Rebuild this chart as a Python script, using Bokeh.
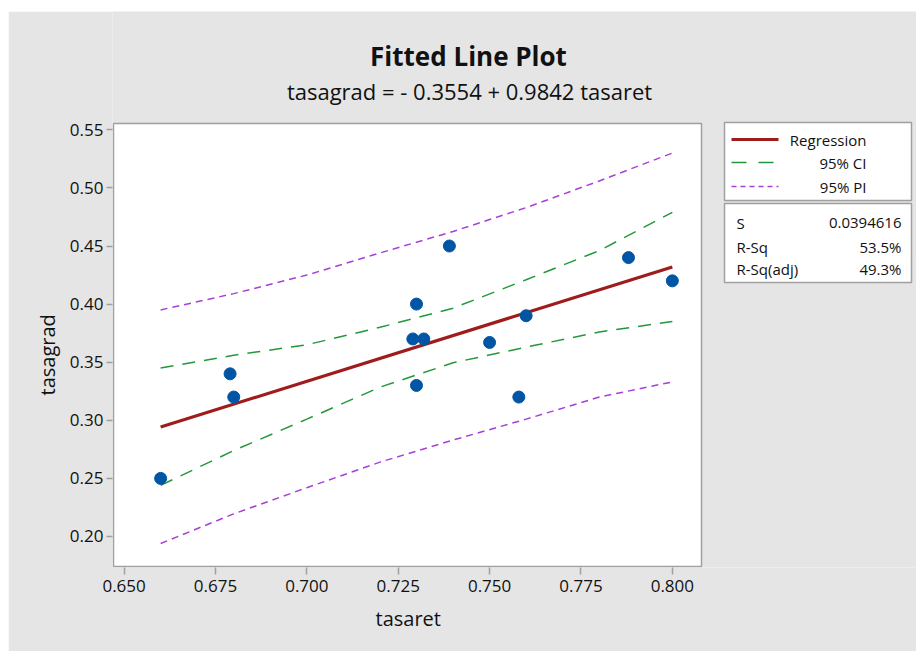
from bokeh.plotting import figure
from bokeh.models import Range1d, Title, FixedTicker, NumeralTickFormatter
from bokeh.embed import file_html
from bokeh.resources import INLINE
from bokeh.core.properties import value

# ---------------- data ----------------
tasaret = [0.660, 0.679, 0.680, 0.729, 0.730, 0.730, 0.732, 0.739, 0.750, 0.758, 0.760, 0.788, 0.800]
tasagrad = [0.250, 0.340, 0.320, 0.370, 0.400, 0.330, 0.370, 0.450, 0.367, 0.320, 0.390, 0.440, 0.420]

fit_x = [0.66, 0.80]
fit_y = [0.2942, 0.4320]

band_x = [0.66, 0.68, 0.70, 0.72, 0.74, 0.76, 0.78, 0.80]
ci_upper = [0.345, 0.356, 0.365, 0.380, 0.3965, 0.421, 0.446, 0.479]
ci_lower = [0.244, 0.274, 0.301, 0.3285, 0.3495, 0.363, 0.376, 0.385]
pi_upper = [0.395, 0.409, 0.425, 0.444, 0.4625, 0.483, 0.506, 0.530]
pi_lower = [0.194, 0.2195, 0.242, 0.264, 0.283, 0.301, 0.320, 0.333]

x_ticks = [0.650, 0.675, 0.700, 0.725, 0.750, 0.775, 0.800]
y_ticks = [0.20, 0.25, 0.30, 0.35, 0.40, 0.45, 0.50, 0.55]

title_text = "Fitted Line Plot"
subtitle_text = "tasagrad = - 0.3554 + 0.9842 tasaret"
x_label = "tasaret"
y_label = "tasagrad"

legend_labels = ["Regression", "95% CI", "95% PI"]
stat_names = ["S", "R-Sq", "R-Sq(adj)"]
stat_values = ["0.0394616", "53.5%", "49.3%"]

# ---------------- styles / layout ----------------
FONT = "Open Sans"
BG = "#e5e5e5"
FRAME = "#a0a0a0"
TXT = "#111111"
C_FIT = "#9f1c1c"
C_CI = "#23983a"
C_PI = "#a640d6"
C_PT = "#0055a5"
DASH_CI = "13 9"
DASH_PI = "7 5"

# the frame spans the plot area plus the free area on the right and above;
# a "px" range pair maps page pixels for the decorations (boxes, titles, legend)
p = figure(width=908, height=640, output_backend="svg", toolbar_location=None,
           x_range=Range1d(0.64683, 0.86680), y_range=Range1d(0.17332, 0.65181),
           min_border_left=104, min_border_right=0, min_border_top=0, min_border_bottom=84,
           background_fill_color=BG, border_fill_color=BG, outline_line_color=None)
p.margin = (11, 0, 0, 8)
p.extra_x_ranges = {"px": Range1d(112, 916)}
p.extra_y_ranges = {"px": Range1d(567, 11)}
p.grid.visible = False

for ax, ticks, fmt, tout, stand in ((p.xaxis[0], x_ticks, "0.000", 7, 5),
                                    (p.yaxis[0], y_ticks, "0.00", 6, 3)):
    ax.ticker = FixedTicker(ticks=ticks)
    ax.formatter = NumeralTickFormatter(format=fmt)
    ax.axis_line_color = None
    ax.major_tick_line_color = FRAME
    ax.major_tick_line_width = 1.5
    ax.major_tick_in = 0
    ax.major_tick_out = tout
    ax.minor_tick_line_color = None
    ax.major_label_text_font = FONT
    ax.major_label_text_font_size = "17px"
    ax.major_label_text_color = TXT
    ax.major_label_standoff = stand

# axis titles (placed beside the axes, offset so they centre on the plot area)
p.add_layout(Title(text=x_label, align="left", offset=263, standoff=20, vertical_align="top",
                   text_font=FONT, text_font_size="20px", text_font_style="normal",
                   text_color=TXT), "below")
p.add_layout(Title(text=y_label, align="left", offset=172, standoff=12,
                   text_font=FONT, text_font_size="20px", text_font_style="normal",
                   text_color=TXT), "left")

# plot area
p.quad(left=[113], right=[701], top=[123], bottom=[566], x_range_name="px", y_range_name="px",
       fill_color="white", line_color=FRAME, line_width=1.5)

p.line(band_x, pi_upper, line_color=C_PI, line_width=1.5, line_dash=DASH_PI)
p.line(band_x, pi_lower, line_color=C_PI, line_width=1.5, line_dash=DASH_PI)
p.line(band_x, ci_upper, line_color=C_CI, line_width=1.5, line_dash=DASH_CI)
p.line(band_x, ci_lower, line_color=C_CI, line_width=1.5, line_dash=DASH_CI)
p.line(fit_x, fit_y, line_color=C_FIT, line_width=3.2)
p.scatter(tasaret, tasagrad, size=12, fill_color=C_PT, line_color=C_PT)

# titles
p.text(x=[468], y=[55], text=[title_text], x_range_name="px", y_range_name="px",
       text_align="center", text_baseline="middle", text_font=value(FONT),
       text_font_size="26px", text_font_style="bold", text_color=TXT)
p.text(x=[469], y=[90], text=[subtitle_text], x_range_name="px", y_range_name="px",
       text_align="center", text_baseline="middle", text_font=value(FONT),
       text_font_size="22px", text_color=TXT)

# legend and statistics boxes
p.quad(left=[724, 724], right=[911, 911], top=[122, 203], bottom=[200, 282],
       x_range_name="px", y_range_name="px",
       fill_color="white", line_color=FRAME, line_width=1.5)
p.line([731, 778], [139, 139], x_range_name="px", y_range_name="px", line_color=C_FIT, line_width=3.2)
p.line([731, 778], [162, 162], x_range_name="px", y_range_name="px", line_color=C_CI, line_width=1.5,
       line_dash="15 12")
p.line([731, 778], [186, 186], x_range_name="px", y_range_name="px", line_color=C_PI, line_width=1.5,
       line_dash="5 4")
p.text(x=[866] * 3, y=[139, 162, 186], text=legend_labels, x_range_name="px", y_range_name="px",
       text_align="right", text_baseline="middle", text_font=value(FONT),
       text_font_size="15px", text_color=TXT)
p.text(x=[736] * 3, y=[222, 246, 268], text=stat_names, x_range_name="px", y_range_name="px",
       text_align="left", text_baseline="middle", text_font=value(FONT),
       text_font_size="15px", text_color=TXT)
p.text(x=[901] * 3, y=[222, 246, 268], text=stat_values, x_range_name="px", y_range_name="px",
       text_align="right", text_baseline="middle", text_font=value(FONT),
       text_font_size="15px", text_color=TXT)

open("out.html", "w").write(file_html(p, INLINE))
